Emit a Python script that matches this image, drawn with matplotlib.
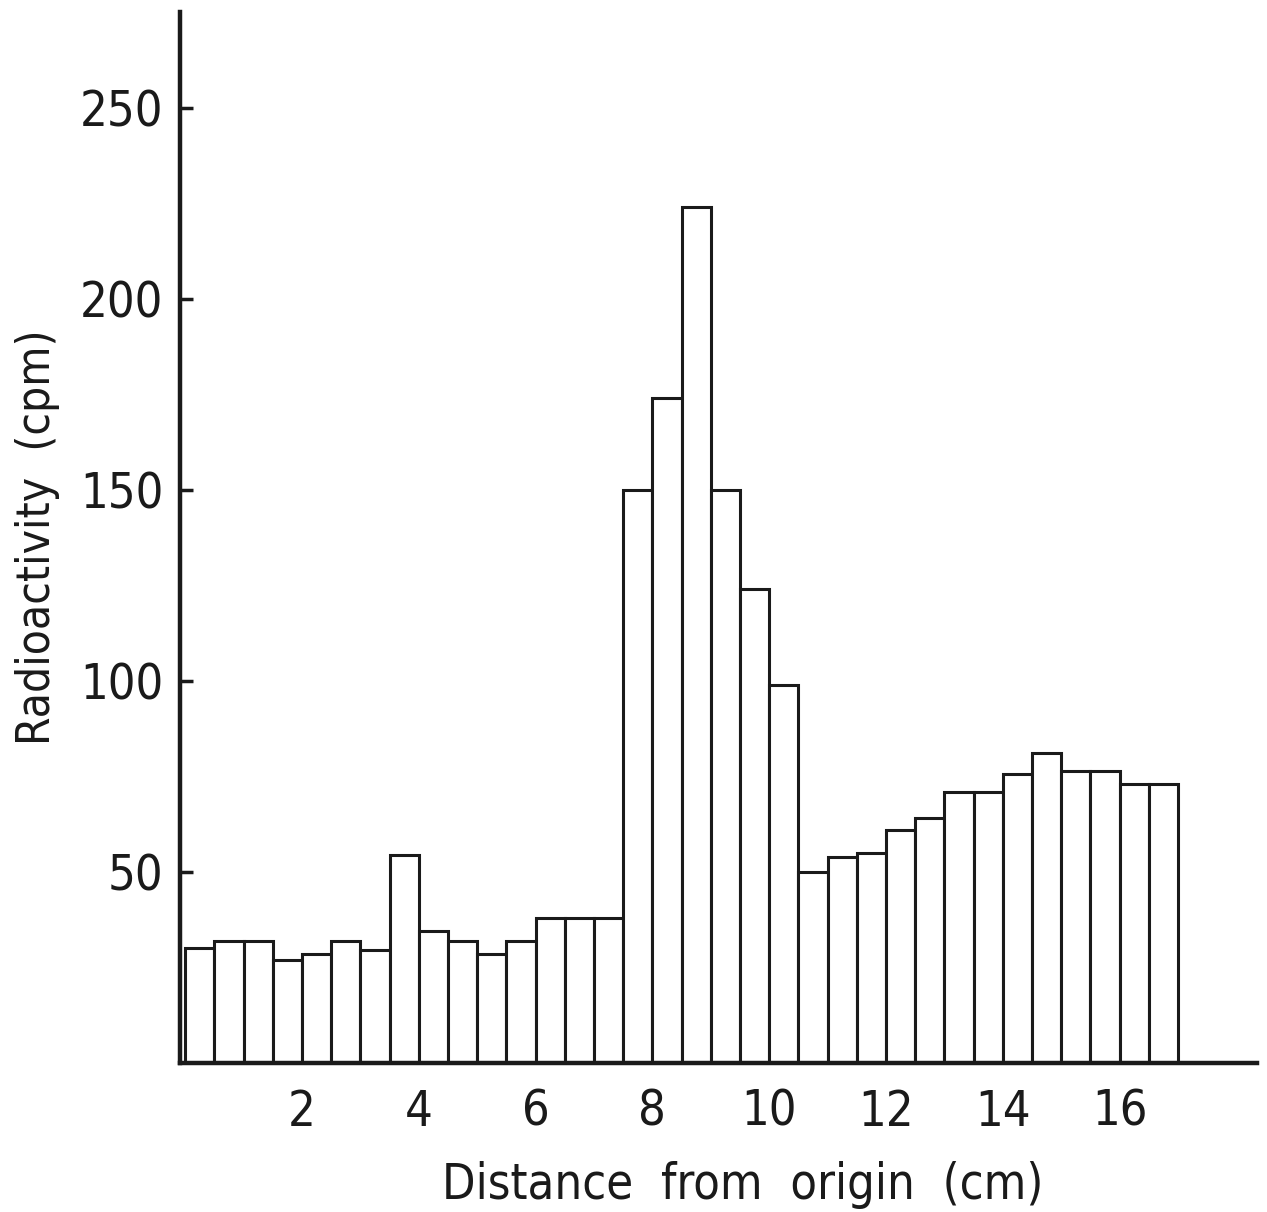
import numpy as np
import matplotlib
matplotlib.use("Agg")
import matplotlib.pyplot as plt

# radioactivity per 0.5 cm strip
bin_width = 0.5
counts = [30, 32, 32, 27, 28.5, 32, 29.5, 54.5, 34.5, 32,
          28.5, 32, 38, 38, 38, 150, 174, 224, 150, 124,
          99, 50, 54, 55, 61, 64, 71, 71, 75.5, 81,
          76.5, 76.5, 73, 73]
distance = np.arange(len(counts)) * bin_width  # left edge of each strip

x_ticks = [2, 4, 6, 8, 10, 12, 14, 16]
y_ticks = [50, 100, 150, 200, 250]

plt.rcParams['font.family'] = ['DejaVu Sans']
font = dict(fontsize=35, fontstretch='condensed', fontweight='light')

fig = plt.figure(figsize=(12.67, 12.12), dpi=100)
ax = fig.add_axes([0.142, 0.123, 0.850, 0.867])

ax.bar(distance, counts, width=bin_width, align='edge',
       facecolor='white', edgecolor='#1a1a1a', linewidth=2.2)

ax.set_xlim(-0.09, 18.35)
ax.set_ylim(0, 275)

ax.spines['top'].set_visible(False)
ax.spines['right'].set_visible(False)
ax.spines['left'].set_linewidth(3.2)
ax.spines['bottom'].set_linewidth(3.2)
ax.spines['left'].set_color('#1a1a1a')
ax.spines['bottom'].set_color('#1a1a1a')

ax.set_xticks(x_ticks)
ax.set_xticklabels([str(v) for v in x_ticks], **font)
ax.set_yticks(y_ticks)
ax.set_yticklabels([str(v) for v in y_ticks], **font)
ax.tick_params(axis='x', length=0, pad=18, colors='#1a1a1a')
ax.tick_params(axis='y', direction='in', length=9, width=2.5, pad=12, colors='#1a1a1a')

ax.set_xlabel('Distance  from  origin  (cm)', color='#1a1a1a', **font)
ax.xaxis.set_label_coords(0.523, -0.093)
ax.set_ylabel('Radioactivity  (cpm)', color='#1a1a1a',
              fontsize=33, fontstretch='condensed', fontweight='light')
ax.yaxis.set_label_coords(-0.111, 0.5)

fig.savefig('out.png', dpi=100, facecolor='white')
